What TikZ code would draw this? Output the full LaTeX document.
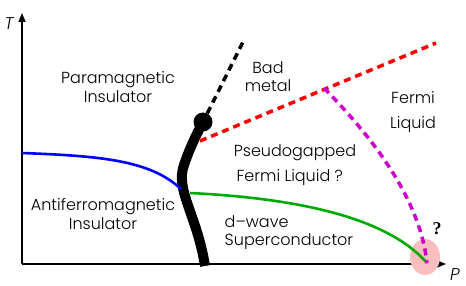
\documentclass[tikz,border=0pt]{standalone}
\usepackage{fontspec}
\setmainfont{Poppins Light}
\newfontfamily\qfont{Liberation Serif}
\usepackage{tikz}
\usetikzlibrary{arrows.meta,positioning,calc,shapes.geometric}
\definecolor{pgpurple}{RGB}{204,0,204}
\definecolor{scgreen}{RGB}{0,170,0}
\definecolor{halopink}{RGB}{250,190,190}

\begin{document}
\begin{tikzpicture}[
	x=1pt, y=-1pt,
	region/.style={font=\fontsize{16}{18}\selectfont, inner sep=0pt, align=center},
	axis/.style={-{Triangle[length=9pt,width=7pt]}, line width=1.6pt},
	mott/.style={line width=10pt},
	crossover/.style={dashed, line width=3.5pt, dash pattern=on 7pt off 5pt},
	phaseline/.style={line width=2.6pt},
	]
	\useasboundingbox (0,0) rectangle (466,286);

	% axes
	\coordinate (origin) at (22,264);
	\coordinate (ttip) at (22,13);
	\coordinate (ptip) at (446,264);
	\draw[axis] (origin) -- (ttip);
	\draw[axis] (origin) -- (ptip);
	\node[font=\fontsize{17}{17}\selectfont\itshape] (tlab) at (9,24) {T};
	\node[font=\fontsize{17}{17}\selectfont\itshape] (plab) at (455,275) {P};

	% quantum critical region
	\coordinate (qcp) at (427,263);
	\node[ellipse, fill=halopink, minimum width=30pt, minimum height=36pt, inner sep=0pt] (halo) at (425,257) {};

	% Mott line with critical end point
	\coordinate (mbot) at (205,266);
	\node[circle, fill=black, minimum size=19pt, inner sep=0pt] (endpt) at (203,122) {};
	\coordinate (badtop) at (243,42);
	\draw[mott] (mbot) .. controls (197,215) and (175,190) .. (184,165)
		.. controls (189,150) and (196,135) .. (endpt.center);
	\draw[crossover, black] (endpt) -- (badtop);

	% antiferromagnetic and superconducting boundaries
	\coordinate (afl) at (22,153);
	\coordinate (afr) at (181,189);
	\coordinate (scl) at (190,193);
	\draw[phaseline, blue] (afl) .. controls (100,156) and (150,160) .. (afr);
	\draw[phaseline, scgreen] (scl) .. controls (290,198) and (385,215) .. (qcp);

	% crossover lines
	\coordinate (redl) at (200,141);
	\coordinate (redr) at (436,43);
	\coordinate (pgtop) at (324,88);
	\draw[crossover, red] (redl) -- (redr);
	\draw[crossover, pgpurple] (pgtop) .. controls (375,140) and (420,200) .. (qcp);

	% labels
	\node[region] (pmi) at (118,87) {Paramagnetic\\[1pt]Insulator};
	\node[region] (bad) at (268,77) {Bad\\[0pt]metal};
	\node[region] (fl) at (413,112) {Fermi\\[7pt]Liquid};
	\node[region, align=left] (pg) at (295,165) {Pseudogapped\\[7pt]\,Fermi Liquid ?};
	\node[region] (afi) at (103,214) {Antiferromagnetic\\[1pt]Insulator};
	\node[region, align=left] (dsc) at (289,233) {d--wave\\[0pt]Superconductor};
	\node[font=\fontsize{18}{18}\selectfont\qfont\bfseries] (qmark) at (437,229) {?};
\end{tikzpicture}
\end{document}
